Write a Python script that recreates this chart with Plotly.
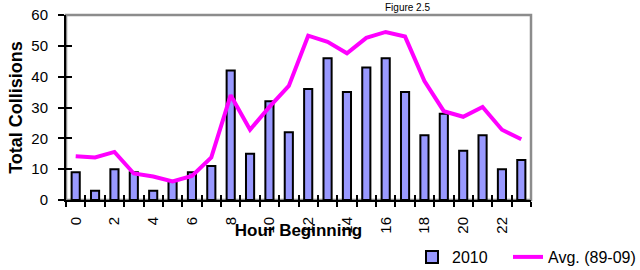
import plotly.graph_objects as go

hours = list(range(24))
collisions_2010 = [9, 3, 10, 9, 3, 6, 9, 11, 42, 15, 32, 22, 36, 46, 35, 43, 46, 35, 21, 28, 16, 21, 10, 13]
avg_89_09 = [14.2, 13.8, 15.6, 8.6, 7.6, 6.0, 7.8, 13.8, 34.0, 22.8, 30.2, 37.0, 53.3, 51.3, 47.6, 52.6, 54.5, 53.0, 38.6, 28.8, 27.0, 30.2, 22.8, 19.7]
tick_hours = list(range(0, 24, 2))
y_ticks = [0, 10, 20, 30, 40, 50, 60]

FONT = "Liberation Sans, Arial, sans-serif"
boundaries = [h - 0.5 for h in range(25)]

fig = go.Figure()
fig.add_trace(go.Bar(
    x=hours, y=collisions_2010, name="2010", width=0.42, legend="legend",
    marker=dict(color="#9999FF", line=dict(color="black", width=2)),
))
fig.add_trace(go.Scatter(
    x=hours, y=avg_89_09, name="Avg. (89-09)", mode="lines", legend="legend2",
    line=dict(color="#FF00FF", width=4),
))
# invisible trace to carry the inside-tick overlay axes
fig.add_trace(go.Scatter(x=[0], y=[0], xaxis="x2", yaxis="y2", mode="markers",
                         marker=dict(opacity=0), showlegend=False, hoverinfo="skip"))

legend_common = dict(orientation="h", xref="container", yref="container",
                     xanchor="left", y=13 / 270, yanchor="middle",
                     font=dict(size=16, family=FONT), bgcolor="rgba(0,0,0,0)")

fig.update_layout(
    width=640, height=270,
    margin=dict(l=66, r=109, t=15, b=70, autoexpand=False),
    paper_bgcolor="white", plot_bgcolor="white",
    font=dict(family=FONT, color="black"),
    showlegend=True,
    legend=dict(x=412 / 640, **legend_common),
    legend2=dict(x=508 / 640, **legend_common),
    xaxis=dict(
        range=[-0.5, 23.5], tickmode="array", tickvals=tick_hours,
        ticktext=[str(h) for h in tick_hours], tickangle=-90,
        ticks="", showgrid=False, zeroline=False, automargin=True,
        showline=True, linecolor="black", linewidth=2,
        tickfont=dict(size=15, family=FONT), ticklabelstandoff=9,
        minor=dict(tickmode="array", tickvals=boundaries, ticks="outside",
                   ticklen=5, tickwidth=1.5, tickcolor="black", showgrid=False),
        title=dict(text="<b>Hour Beginning</b>", font=dict(size=17, family=FONT), standoff=16),
        fixedrange=True,
    ),
    yaxis=dict(
        range=[0, 60], tickmode="array", tickvals=y_ticks,
        ticks="outside", ticklen=6, tickwidth=1.5, tickcolor="black",
        showgrid=False, zeroline=False, automargin=False,
        showline=True, linecolor="black", linewidth=2,
        tickfont=dict(size=15, family=FONT), ticklabelstandoff=7,
        title=dict(text="<b>Total Collisions</b>", font=dict(size=18, family=FONT), standoff=4),
    ),
    xaxis2=dict(
        overlaying="x", range=[-0.5, 23.5], tickmode="array", tickvals=boundaries,
        ticks="inside", ticklen=5, tickwidth=1.5, tickcolor="black",
        showticklabels=False, showgrid=False, zeroline=False, showline=False,
        side="bottom", anchor="y2", automargin=False,
    ),
    yaxis2=dict(
        overlaying="y", range=[0, 60], tickmode="array", tickvals=y_ticks,
        ticks="inside", ticklen=6, tickwidth=1.5, tickcolor="black",
        showticklabels=False, showgrid=False, zeroline=False, showline=False,
        side="left", anchor="x2", automargin=False,
    ),
    shapes=[dict(type="rect", xref="paper", yref="paper", x0=0, x1=1, y0=0, y1=1,
                 line=dict(color="#8C8C8C", width=2.5), layer="below")],
    annotations=[dict(text="Figure 2.5", xref="paper", yref="paper",
                      x=(407 - 66) / 465, y=1 + 15 / 185, xanchor="center", yanchor="top",
                      showarrow=False, font=dict(size=10, family=FONT))],
)

fig.write_html("out.html", config={"displayModeBar": False},
               post_script="document.body.style.margin='0';")
